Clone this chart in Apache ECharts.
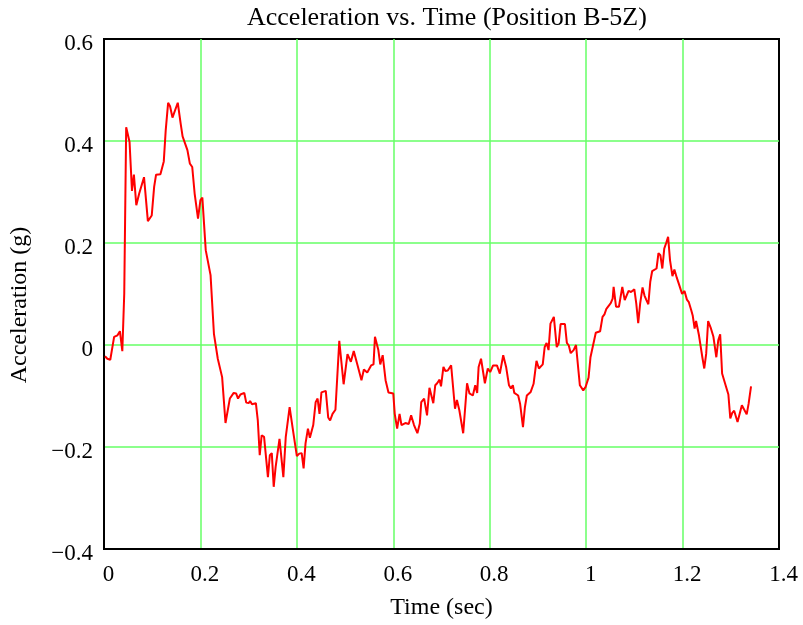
<!DOCTYPE html>
<html>
<head>
<meta charset="utf-8">
<script src="https://cdn.jsdelivr.net/npm/echarts@6/dist/echarts.min.js"></script>
<style>
  html, body { margin: 0; background: #fff; }
  #chart { width: 803px; height: 625px; }
</style>
</head>
<body>
<div id="chart"></div>
<script>
// values
const time = [
  0.002, 0.007, 0.013, 0.021, 0.028, 0.033, 0.038, 0.042, 0.046, 0.053,
  0.058, 0.062, 0.067, 0.073, 0.083, 0.091, 0.099, 0.104, 0.108, 0.117,
  0.124, 0.128, 0.133, 0.137, 0.142, 0.153, 0.159, 0.163, 0.173, 0.178,
  0.183, 0.188, 0.195, 0.200, 0.204, 0.211, 0.221, 0.228, 0.236, 0.245,
  0.252, 0.261, 0.269, 0.274, 0.278, 0.283, 0.291, 0.295, 0.300, 0.303,
  0.307, 0.315, 0.319, 0.323, 0.327, 0.332, 0.340, 0.344, 0.348, 0.352,
  0.356, 0.364, 0.372, 0.377, 0.385, 0.391, 0.400, 0.405, 0.410, 0.414,
  0.418, 0.423, 0.427, 0.434, 0.439, 0.443, 0.447, 0.451, 0.460, 0.465,
  0.469, 0.474, 0.480, 0.488, 0.497, 0.505, 0.512, 0.518, 0.526, 0.534,
  0.539, 0.546, 0.554, 0.559, 0.562, 0.569, 0.573, 0.578, 0.584, 0.590,
  0.600, 0.603, 0.608, 0.613, 0.617, 0.625, 0.632, 0.637, 0.643, 0.650,
  0.655, 0.658, 0.664, 0.670, 0.675, 0.679, 0.683, 0.687, 0.691, 0.696,
  0.699, 0.704, 0.708, 0.713, 0.720, 0.728, 0.732, 0.737, 0.745, 0.753,
  0.758, 0.765, 0.770, 0.774, 0.777, 0.782, 0.790, 0.796, 0.801, 0.807,
  0.815, 0.821, 0.823, 0.828, 0.834, 0.840, 0.844, 0.848, 0.851, 0.859,
  0.863, 0.869, 0.873, 0.877, 0.885, 0.891, 0.897, 0.902, 0.910, 0.914,
  0.918, 0.922, 0.926, 0.933, 0.939, 0.943, 0.947, 0.956, 0.960, 0.964,
  0.968, 0.974, 0.979, 0.984, 0.987, 0.994, 0.999, 1.005, 1.009, 1.013,
  1.020, 1.029, 1.034, 1.038, 1.042, 1.051, 1.055, 1.057, 1.062, 1.068,
  1.075, 1.080, 1.084, 1.088, 1.093, 1.100, 1.104, 1.108, 1.112, 1.117,
  1.121, 1.125, 1.129, 1.133, 1.137, 1.141, 1.146, 1.150, 1.154, 1.158,
  1.162, 1.166, 1.170, 1.174, 1.179, 1.183, 1.188, 1.194, 1.199, 1.204,
  1.209, 1.213, 1.218, 1.221, 1.225, 1.228, 1.234, 1.241, 1.245, 1.249,
  1.253, 1.259, 1.264, 1.270, 1.274, 1.278, 1.282, 1.288, 1.295, 1.299,
  1.303, 1.307, 1.314, 1.323, 1.327, 1.333, 1.337, 1.342
];
const accel = [
  -0.022, -0.027, -0.029, 0.016, 0.019, 0.027, -0.012, 0.101, 0.427, 0.398,
  0.302, 0.334, 0.274, 0.297, 0.329, 0.243, 0.254, 0.310, 0.334, 0.335,
  0.360, 0.421, 0.475, 0.468, 0.446, 0.475, 0.434, 0.409, 0.382, 0.356,
  0.349, 0.297, 0.248, 0.284, 0.289, 0.186, 0.137, 0.022, -0.027, -0.063,
  -0.153, -0.105, -0.094, -0.095, -0.105, -0.097, -0.094, -0.113, -0.114, -0.110,
  -0.116, -0.114, -0.148, -0.216, -0.177, -0.180, -0.259, -0.216, -0.212, -0.278,
  -0.239, -0.184, -0.259, -0.180, -0.122, -0.161, -0.218, -0.213, -0.212, -0.242,
  -0.193, -0.164, -0.182, -0.157, -0.112, -0.105, -0.135, -0.093, -0.090, -0.142,
  -0.148, -0.135, -0.127, 0.008, -0.077, -0.018, -0.033, -0.012, -0.040, -0.069,
  -0.048, -0.054, -0.040, -0.038, 0.016, -0.010, -0.038, -0.020, -0.069, -0.093,
  -0.095, -0.135, -0.164, -0.135, -0.157, -0.153, -0.155, -0.138, -0.157, -0.173,
  -0.154, -0.112, -0.105, -0.138, -0.084, -0.081, -0.114, -0.079, -0.075, -0.068,
  -0.081, -0.043, -0.051, -0.050, -0.040, -0.125, -0.108, -0.128, -0.173, -0.075,
  -0.095, -0.099, -0.079, -0.094, -0.043, -0.027, -0.075, -0.046, -0.053, -0.040,
  -0.040, -0.056, -0.059, -0.020, -0.043, -0.079, -0.085, -0.079, -0.094, -0.099,
  -0.115, -0.161, -0.122, -0.099, -0.092, -0.076, -0.031, -0.046, -0.038, -0.004,
  0.004, -0.010, 0.042, 0.055, -0.004, 0.003, 0.041, 0.041, 0.004, -0.001,
  -0.016, -0.010, 0.000, -0.050, -0.079, -0.089, -0.082, -0.064, -0.024, -0.024,
  0.024, 0.027, 0.055, 0.060, 0.071, 0.082, 0.091, 0.114, 0.075, 0.075,
  0.114, 0.088, 0.088, 0.106, 0.104, 0.109, 0.081, 0.043, 0.081, 0.113,
  0.097, 0.088, 0.080, 0.124, 0.145, 0.148, 0.150, 0.180, 0.176, 0.150,
  0.189, 0.200, 0.212, 0.166, 0.135, 0.148, 0.132, 0.115, 0.100, 0.106,
  0.089, 0.084, 0.068, 0.058, 0.032, 0.047, 0.019, -0.024, -0.046, -0.017,
  0.047, 0.032, 0.016, -0.024, 0.009, 0.021, -0.056, -0.075, -0.097, -0.144,
  -0.133, -0.129, -0.151, -0.118, -0.118, -0.136, -0.115, -0.081
];
const xTicks = [0, 0.2, 0.4, 0.6, 0.8, 1, 1.2, 1.4];
const yTicks = [-0.4, -0.2, 0, 0.2, 0.4, 0.6];

const chart = echarts.init(document.getElementById("chart"));
const font = "'Liberation Serif', 'Times New Roman', serif";

const option = {
  animation: false,
  backgroundColor: "#fff",
  title: {
    text: "Acceleration vs. Time (Position B-5Z)",
    left: 242,
    top: 0,
    textStyle: { fontFamily: font, fontSize: 26, fontWeight: "normal", color: "#000" },
  },
  grid: {
    left: 102,
    right: 24,
    top: 39,
    bottom: 76,
    show: true,
    borderColor: "#000",
    borderWidth: 2,
  },
  xAxis: {
    type: "value",
    min: xTicks[0],
    max: xTicks[xTicks.length - 1],
    interval: 0.2,
    name: "Time (sec)",
    nameLocation: "middle",
    nameGap: 47,
    nameTextStyle: { fontFamily: font, fontSize: 24, color: "#000" },
    axisLine: { show: true, onZero: false, lineStyle: { color: "#000", width: 2 } },
    axisTick: { show: false },
    axisLabel: {
      fontFamily: font,
      fontSize: 23,
      color: "#000",
      margin: 14,
      padding: [0, 0, 0, 9],
    },
    splitLine: {
      show: true,
      showMinLine: false,
      showMaxLine: false,
      lineStyle: { color: "#66ff66", width: 1.5 },
    },
  },
  yAxis: {
    type: "value",
    min: yTicks[0],
    max: yTicks[yTicks.length - 1],
    interval: 0.2,
    name: "Acceleration (g)",
    nameLocation: "middle",
    nameGap: 72,
    nameTextStyle: { fontFamily: font, fontSize: 24, color: "#000", padding: [0, 22, 0, 0] },
    axisLine: { show: true, onZero: false, lineStyle: { color: "#000", width: 2 } },
    axisTick: { show: false },
    axisLabel: {
      fontFamily: font,
      fontSize: 23,
      color: "#000",
      margin: 11,
      verticalAlign: "top",
      lineHeight: 10,
      formatter: (v) => (v < 0 ? "\u2212" + Math.abs(v) : String(v)),
    },
    splitLine: {
      show: true,
      showMinLine: false,
      showMaxLine: false,
      lineStyle: { color: "#66ff66", width: 1.5 },
    },
  },
  series: [
    {
      name: "Acceleration",
      type: "line",
      data: time.map((t, i) => [t, accel[i]]),
      showSymbol: false,
      lineStyle: { color: "#ff0000", width: 2 },
      itemStyle: { color: "#ff0000" },
    },
  ],
};

chart.setOption(option);
</script>
</body>
</html>
